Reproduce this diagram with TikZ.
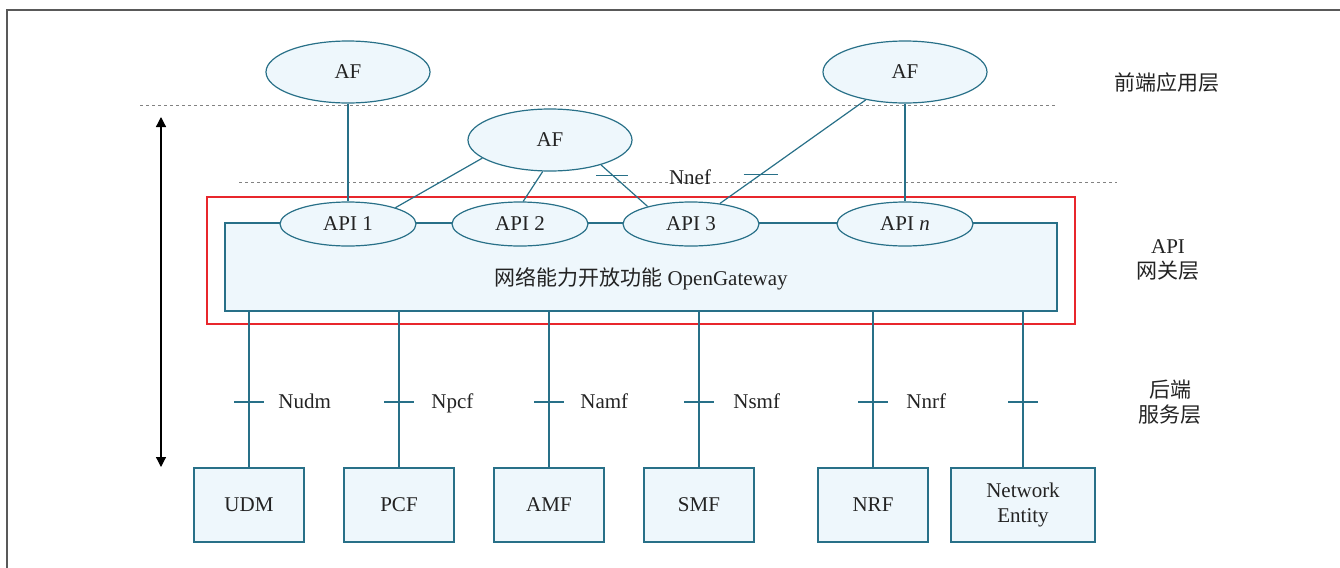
\documentclass[tikz,border=0pt]{standalone}
\usepackage{fontspec}
\setmainfont{Liberation Serif}
\newfontfamily\cjk{Noto Sans CJK SC}
\usetikzlibrary{shapes.geometric,arrows.meta}
\definecolor{nefteal}{RGB}{40,112,136}
\definecolor{neffill}{RGB}{238,247,252}
\definecolor{nefred}{RGB}{232,38,44}
\definecolor{nefdash}{RGB}{130,130,130}
\definecolor{neftext}{RGB}{35,35,35}
\tikzset{
  every node/.style={font=\fontsize{10.5pt}{12.8pt}\selectfont, text=neftext},
  af/.style={draw=nefteal, fill=neffill, ellipse, line width=0.6pt, minimum width=82pt, minimum height=31pt, inner sep=0pt},
  api/.style={af, minimum width=68pt, minimum height=22pt},
  nf/.style={draw=nefteal, fill=neffill, line width=0.6pt, minimum width=55pt, minimum height=37pt, inner sep=0pt, align=center},
  conn/.style={draw=nefteal, line width=0.6pt},
  ifmark/.style={draw=nefteal, line width=0.6pt},
  iflabel/.style={anchor=base west, inner sep=0pt},
  layerline/.style={draw=nefdash, line width=0.5pt, dash pattern=on 1.5pt off 1.5pt}
}
\begin{document}
\begin{tikzpicture}[x=0.5pt, y=-0.5pt]
\useasboundingbox (0,0) rectangle (1340,568);
\path[draw=gray!70!black, line width=1pt] (7,568) -- (7,10) -- (1340,10);

% layer borders
\path[layerline] (140,105) -- (1056,105);
\path[layerline] (239,182) -- (1117,182);

% front-end AFs
\node[af] (afl) at (348,72) {AF};
\node[af] (afm) at (550,140) {AF};
\node[af] (afr) at (905,72) {AF};

% gateway
\path[draw=nefred, line width=0.6pt] (207,197) rectangle (1075,324);
\node[nf, minimum width=416pt, minimum height=44pt] (gw) at (641,267) {};
\node (gwtext) at (641,279) {{\cjk 网络能力开放功能} OpenGateway};

\node[api] (api1) at (348,224) {API 1};
\node[api] (api2) at (520,224) {API 2};
\node[api] (api3) at (691,224) {API 3};
\node[api] (apin) at (905,224) {API \textit{n}};

\path[conn] (afl) -- (api1);
\path[conn] (afm.-165) -- (api1.19);
\path[conn] (afm.-103) -- (api2.82);
\path[conn] (afm.-26) -- coordinate[pos=0.26] (m1) (api3.158);
\path[conn] (afr) -- coordinate[pos=0.72] (m2) (api3);
\path[conn] (afr) -- (apin);

\path[ifmark] ([xshift=-8.5pt]m1) -- ([xshift=7.5pt]m1);
\path[ifmark] ([xshift=-8.5pt]m2) -- ([xshift=8.5pt]m2);
\node (nnef) at (690,177) {Nnef};

% back-end NFs
\node[nf] (udm) at (249,505) {UDM};
\node[nf] (pcf) at (399,505) {PCF};
\node[nf] (amf) at (549,505) {AMF};
\node[nf] (smf) at (699,505) {SMF};
\node[nf] (nrf) at (873,505) {NRF};
\node[nf, minimum width=72pt] (ne) at (1023,505) {Network\\Entity};

\path[conn] (udm.north |- gw.south) -- coordinate[pos=0.58] (tudm) (udm.north);
\path[conn] (pcf.north |- gw.south) -- coordinate[pos=0.58] (tpcf) (pcf.north);
\path[conn] (amf.north |- gw.south) -- coordinate[pos=0.58] (tamf) (amf.north);
\path[conn] (smf.north |- gw.south) -- coordinate[pos=0.58] (tsmf) (smf.north);
\path[conn] (nrf.north |- gw.south) -- coordinate[pos=0.58] (tnrf) (nrf.north);
\path[conn] (ne.north |- gw.south) -- coordinate[pos=0.58] (tne) (ne.north);

\path[ifmark] ([xshift=-7.5pt]tudm) -- ([xshift=7.5pt]tudm);
\path[ifmark] ([xshift=-7.5pt]tpcf) -- ([xshift=7.5pt]tpcf);
\path[ifmark] ([xshift=-7.5pt]tamf) -- ([xshift=7.5pt]tamf);
\path[ifmark] ([xshift=-7.5pt]tsmf) -- ([xshift=7.5pt]tsmf);
\path[ifmark] ([xshift=-7.5pt]tnrf) -- ([xshift=7.5pt]tnrf);
\path[ifmark] ([xshift=-7.5pt]tne) -- ([xshift=7.5pt]tne);

\node[iflabel] (ludm) at ([xshift=14.5pt, yshift=-3.5pt]tudm) {Nudm};
\node[iflabel] (lpcf) at ([xshift=16pt, yshift=-3.5pt]tpcf) {Npcf};
\node[iflabel] (lamf) at ([xshift=15.5pt, yshift=-3.5pt]tamf) {Namf};
\node[iflabel] (lsmf) at ([xshift=17pt, yshift=-3.5pt]tsmf) {Nsmf};
\node[iflabel] (lnrf) at ([xshift=16.5pt, yshift=-3.5pt]tnrf) {Nnrf};

% layer names
\node (frontlayer) at (1167,83) {\cjk 前端应用层};
\node[align=center] (gwlayer) at (1168,260) {API\\{\cjk 网关层}};
\node[align=center] (backlayer) at (1170,402) {{\cjk 后端}\\{\cjk 服务层}};

\coordinate (up) at (161,117);
\coordinate (down) at (161,467);
\path[draw, line width=0.6pt, {Triangle[length=5pt,width=5pt]}-{Triangle[length=5pt,width=5pt]}] (up) -- (down);
\end{tikzpicture}
\end{document}
